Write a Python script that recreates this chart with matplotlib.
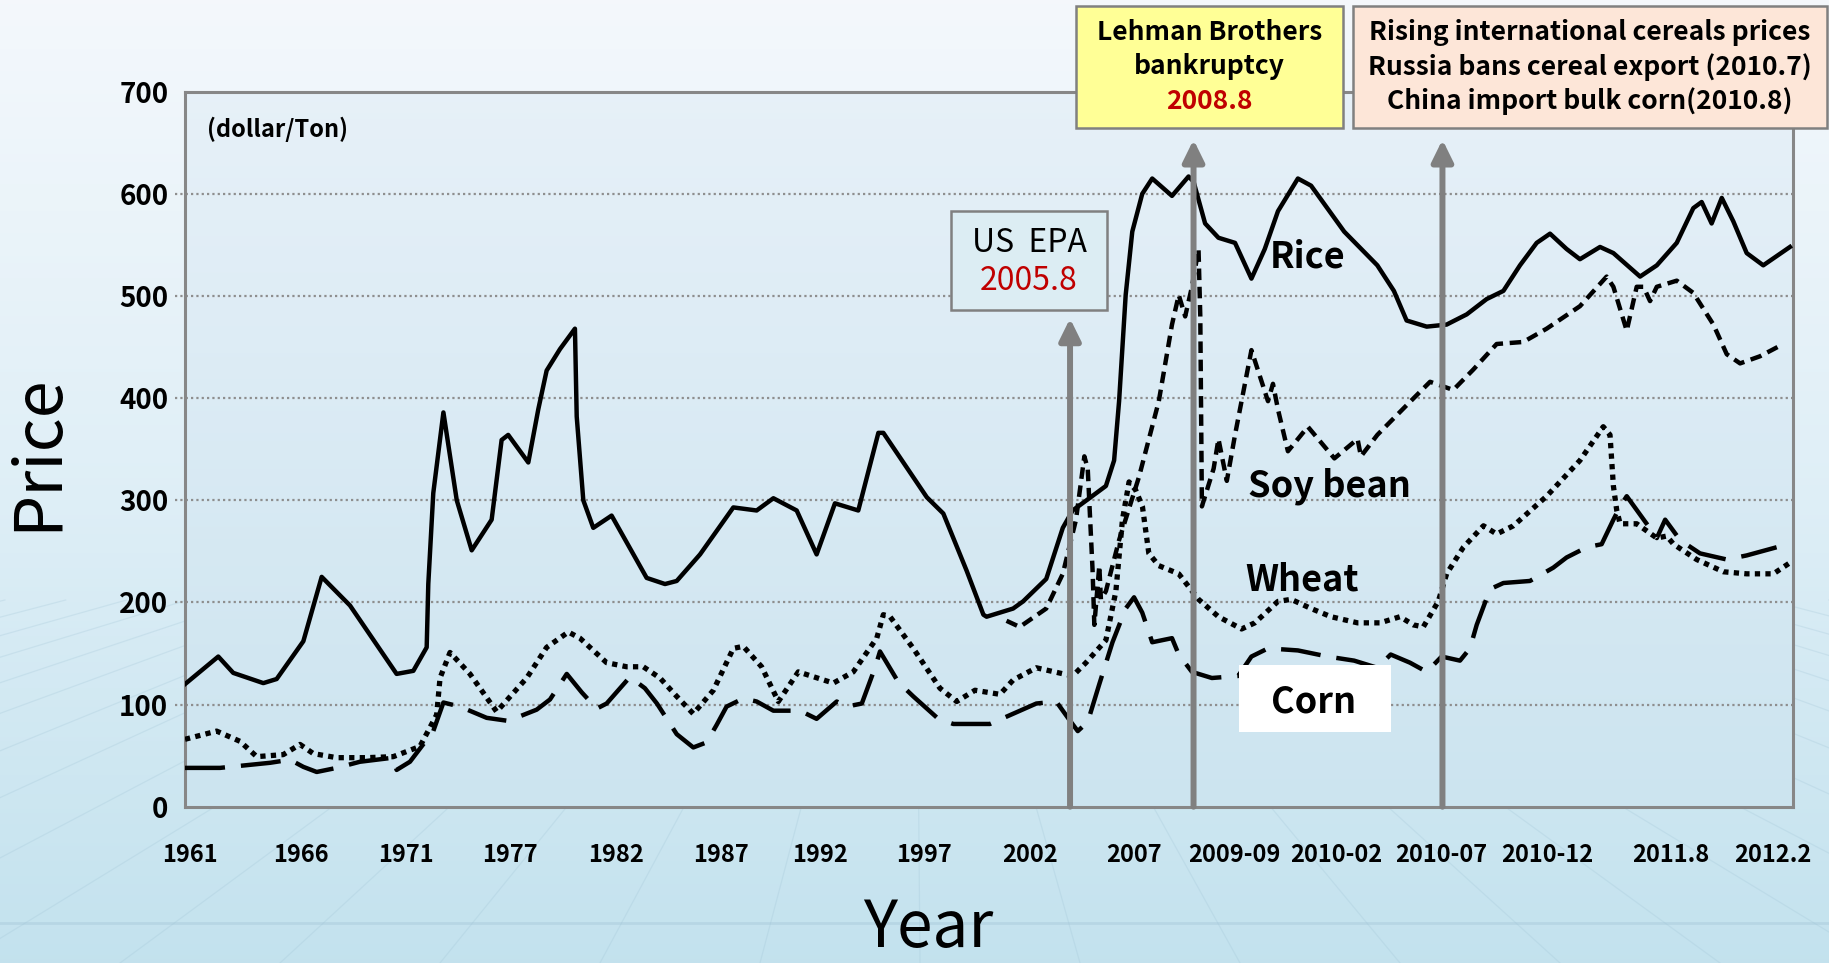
import matplotlib
matplotlib.use("Agg")
import matplotlib.pyplot as plt
import numpy as np
from matplotlib.patches import Rectangle

W, H = 1829, 963

# x axis is a position scale (0-100 across the frame); the original axis is not uniform in time
tick_pos = [0.31, 7.24, 13.74, 20.21, 26.80, 33.33, 39.49, 45.96, 52.55, 59.02,
            65.24, 71.58, 78.1, 84.70, 92.41, 98.76]
tick_labels = ["1961", "1966", "1971", "1977", "1982", "1987", "1992", "1997", "2002",
               "2007", "2009-09", "2010-02", "2010-07", "2010-12", "2011.8", "2012.2"]
y_ticks = [0, 100, 200, 300, 400, 500, 600, 700]
grid_vals = [100, 200, 300, 400, 500, 600]

rice_x = [0, 2.07, 3.0, 4.87, 5.70, 7.36, 8.50, 10.26, 13.16, 14.2, 15.03, 15.13, 15.44,
          16.07, 16.9, 17.83, 19.07, 19.69, 20.1, 21.35, 21.97, 22.49, 23.32, 24.25, 24.36,
          24.77, 25.39, 26.53, 28.71, 29.85, 30.58, 32.03, 34.1, 35.55, 36.59, 38.04, 39.28,
          40.42, 41.87, 43.12, 43.43, 46.13, 47.16, 48.61, 49.65, 49.85, 51.5, 52.12, 53.56,
          54.59, 55.2, 56.24, 57.27, 57.78, 58.09, 58.5, 58.91, 59.53, 60.15, 61.38, 62.41,
          62.72, 63.44, 64.27, 65.3, 66.32, 67.15, 67.97, 69.21, 70.03, 72.09, 74.15, 75.18,
          75.97, 77.22, 78.46, 79.71, 80.95, 81.99, 83.02, 84.06, 84.89, 85.92, 86.75, 88.0,
          88.83, 90.49, 91.53, 92.77, 93.8, 94.32, 94.94, 95.57, 96.29, 97.12, 98.15, 99.81]
rice_y = [120, 147, 131, 121, 125, 162, 225, 197, 130, 133, 156, 218, 307,
          386, 300, 251, 281, 359, 364, 337, 389, 427, 448, 468, 382,
          300, 273, 285, 224, 218, 221, 247, 293, 290, 302, 290, 247,
          297, 290, 366, 366, 303, 287, 231, 188, 186, 194, 201, 223,
          273, 290, 302, 314, 339, 397, 501, 563, 600, 615, 598, 617,
          612, 571, 557, 552, 517, 546, 583, 615, 608, 563, 530, 505,
          476, 470, 472, 482, 497, 505, 530, 552, 561, 546, 536, 548,
          542, 519, 530, 552, 586, 592, 571, 596, 573, 542, 530, 548]

soy_x = [51.09, 51.91, 53.56, 54.59, 55.41, 55.93, 56.14, 56.44, 56.55, 56.86, 56.96, 57.27,
         58.09, 59.33, 60.56, 61.38, 61.8, 62.2, 62.62, 63.03, 63.14, 63.24, 63.97, 64.27,
         64.79, 65.3, 66.32, 67.35, 67.66, 67.97, 68.59, 69.83, 71.48, 72.92, 73.13, 74.15,
         75.97, 77.43, 78.87, 80.12, 81.57, 83.23, 84.68, 86.75, 88.41, 88.83, 89.66, 90.28,
         90.7, 91.11, 91.53, 92.77, 93.8, 95.05, 95.88, 96.71, 97.95, 99.4]
soy_y = [182, 176, 194, 228, 281, 343, 331, 232, 178, 236, 203, 211,
         261, 323, 397, 472, 501, 480, 509, 546, 480, 294, 331, 360,
         319, 364, 447, 397, 414, 389, 348, 372, 341, 360, 343, 364,
         393, 416, 408, 428, 453, 455, 468, 490, 519, 509, 466, 509,
         509, 495, 509, 515, 503, 472, 443, 434, 441, 453]

wheat_x = [0, 1.97, 3.42, 4.46, 6.11, 7.15, 7.98, 9.43, 11.3, 12.95, 14.61, 15.65, 15.86,
           16.48, 17.72, 19.38, 21.25, 22.49, 23.84, 24.56, 26.22, 27.47, 28.5, 29.54, 30.58,
           31.61, 32.86, 34.1, 34.72, 35.86, 36.9, 38.14, 40.32, 41.56, 43.02, 43.43, 43.85,
           45.29, 46.95, 47.99, 49.13, 50.68, 51.5, 52.94, 55.2, 56.03, 57.27, 57.89, 58.3,
           58.71, 59.12, 59.54, 59.94, 60.56, 61.8, 63.03, 64.27, 65.71, 66.53, 67.97, 68.79,
           70.03, 71.27, 72.92, 74.32, 75.56, 76.39, 77.01, 77.94, 78.46, 79.5, 80.75, 81.57,
           82.61, 84.68, 86.75, 88.2, 88.62, 88.83, 89.04, 89.25, 90.28, 91.53, 92.15, 92.57,
           94.01, 95.67, 97.12, 98.78, 99.92]
wheat_y = [66, 74, 64, 49, 51, 61, 52, 48, 48, 49, 59, 90, 126,
           151, 130, 93, 126, 156, 171, 165, 141, 137, 137, 126, 108,
           91, 114, 155, 157, 137, 103, 132, 121, 132, 165, 188, 186,
           155, 116, 103, 114, 110, 124, 136, 128, 141, 163, 211, 281,
           318, 310, 294, 248, 236, 228, 203, 186, 174, 180, 201, 203,
           194, 186, 180, 180, 186, 178, 176, 201, 228, 254, 275, 267,
           275, 304, 339, 372, 364, 314, 290, 277, 277, 263, 265, 257,
           242, 230, 228, 228, 240]

corn_x = [0, 2.18, 5.3, 6.53, 7.36, 8.19, 9.43, 10.88, 12.95, 13.16, 13.99, 15.44, 16.07,
          17.1, 18.76, 20.1, 21.87, 22.7, 23.74, 24.67, 25.6, 26.22, 27.67, 28.6, 29.35,
          30.58, 31.61, 32.44, 33.06, 33.68, 34.72, 35.55, 36.59, 38.25, 39.28, 40.53, 41.15,
          42.09, 42.91, 43.22, 44.36, 45.29, 46.85, 47.78, 50.06, 52.94, 54.18, 55.0, 55.52,
          56.14, 56.86, 57.68, 58.5, 59.02, 59.53, 60.15, 61.38, 61.8, 62.62, 63.86, 65.5,
          66.32, 67.35, 69.21, 71.06, 72.71, 74.15, 74.98, 76.18, 77.22, 78.15, 79.29, 79.91,
          80.33, 81.16, 81.99, 83.64, 85.09, 85.92, 87.17, 88.1, 88.83, 89.25, 89.66, 90.9,
          91.53, 92.05, 92.98, 94.22, 95.88, 97.12, 98.98]
corn_y = [38, 38, 43, 46, 39, 34, 38, 44, 48, 36, 44, 74, 102,
          98, 87, 84, 95, 105, 130, 112, 96, 101, 127, 116, 101,
          71, 58, 63, 80, 98, 106, 103, 94, 94, 86, 103, 98,
          101, 136, 152, 122, 108, 86, 81, 81, 101, 103, 85, 74,
          83, 120, 161, 194, 205, 190, 161, 165, 149, 132, 126, 128,
          147, 155, 153, 147, 143, 136, 149, 141, 132, 147, 143, 155,
          178, 213, 219, 221, 234, 244, 254, 257, 281, 294, 304, 277,
          263, 281, 261, 248, 242, 246, 254]

event_x = [55.04, 62.72, 78.2]
event_top = [478, 653, 653]

plt.rcParams['font.family'] = ['Noto Sans CJK KR', 'DejaVu Sans']

fig = plt.figure(figsize=(W / 100, H / 100), dpi=100)


def fx(px):
    return px / W


def fy(py):
    return 1 - py / H


def gradient(stops, n=256):
    t = np.linspace(0, 1, n)
    pos = np.linspace(0, 1, len(stops))
    cols = np.array(stops)
    img = np.stack([np.interp(t, pos, cols[:, k]) for k in range(3)], axis=1)
    return img[:, None, :]


# page background with faint floor lines
bg = fig.add_axes([0, 0, 1, 1], zorder=-10)
bg.imshow(gradient([(0.957, 0.972, 0.988), (0.875, 0.937, 0.968), (0.765, 0.886, 0.933)]),
          extent=[0, W, H, 0], aspect="auto")
for xb in np.arange(-1800, 3600, 160):
    bg.plot([915 + (xb - 915) * 0.38, xb], [600, H], color=(0.62, 0.76, 0.83), lw=0.9, alpha=0.25)
bg.axhline(923, color=(0.62, 0.76, 0.83), lw=2, alpha=0.35)
bg.set_xlim(0, W)
bg.set_ylim(H, 0)
bg.axis("off")

rect = [fx(185), fy(806.7), fx(1793) - fx(185), fy(91.7) - fy(806.7)]
axbg = fig.add_axes(rect, zorder=-5)
axbg.imshow(gradient([(0.905, 0.943, 0.973), (0.80, 0.895, 0.94)]), extent=[0, 1, 0, 1], aspect="auto")
axbg.axis("off")

ax = fig.add_axes(rect, zorder=0)
ax.set_facecolor("none")
ax.set_xlim(0, 100)
ax.set_ylim(0, 700)

ax.hlines(grid_vals, -0.62, 100, colors="#8e8e8e", lw=1.6, linestyles=(0, (1, 1.4)), clip_on=False, zorder=1)

ax.plot(rice_x, rice_y, color="black", lw=3.2, solid_joinstyle="round", zorder=3)
ax.plot(soy_x, soy_y, color="black", lw=3.2, dashes=(2.6, 1.5), dash_capstyle="butt", zorder=3)
ax.plot(wheat_x, wheat_y, color="black", lw=3.8, dashes=(1, 1), dash_capstyle="butt", zorder=3)
ax.plot(corn_x, corn_y, color="black", lw=3.2, dashes=(9, 3.6), dash_capstyle="butt", zorder=3)

for x, top in zip(event_x, event_top):
    ax.annotate("", xy=(x, top), xytext=(x, 0),
                arrowprops=dict(arrowstyle="-|>,head_length=0.65,head_width=0.32", color="#808080",
                                lw=4.3, mutation_scale=20, shrinkA=0, shrinkB=0), zorder=4)

for s in ax.spines.values():
    s.set_color("#878787")
    s.set_linewidth(2.2)

ax.set_yticks(y_ticks)
ax.set_yticklabels([str(v) for v in y_ticks], fontsize=20, fontweight="bold")
ax.set_xticks(tick_pos)
ax.set_xticklabels(tick_labels, fontsize=17, fontweight="bold")
ax.tick_params(axis="y", length=0, pad=12)
ax.tick_params(axis="x", length=0, pad=26)

ax.text(1.37, 663, "(dollar/Ton)", fontsize=17, fontweight="bold", va="center", ha="left")

ax.text(69.8, 527.6, "Rice", fontsize=26, fontweight="bold", ha="center", va="baseline", zorder=5)
ax.text(71.15, 303.3, "Soy bean", fontsize=26, fontweight="bold", ha="center", va="baseline", zorder=5)
ax.text(69.46, 211.5, "Wheat", fontsize=26, fontweight="bold", ha="center", va="baseline", zorder=5)
ax.add_patch(Rectangle((65.55, 73.5), 9.45, 65.3, facecolor="white", edgecolor="none", zorder=5))
ax.text(70.2, 91.8, "Corn", fontsize=26, fontweight="bold", ha="center", va="baseline", zorder=6)

fig.text(fx(38), fy(452), "Price", fontsize=48, rotation=90, ha="center", va="center")
fig.text(fx(928), fy(962), "Year", fontsize=46, ha="center", va="bottom")

# event boxes
boxes = [
    (951, 211, 1107, 310, "#dcedf3"),
    (1076, 6, 1343, 128, "#ffff96"),
    (1353, 6, 1827, 128, "#fde6d8"),
]
for x0, y0, x1, y1, fc in boxes:
    fig.add_artist(Rectangle((fx(x0), fy(y1)), fx(x1) - fx(x0), fy(y0) - fy(y1),
                             transform=fig.transFigure, facecolor=fc, edgecolor="#808080",
                             lw=1.8, zorder=5))

fig.text(fx(1029), fy(243), "US  EPA", fontsize=23, ha="center", va="center", zorder=6)
fig.text(fx(1029), fy(281), "2005.8", fontsize=23, color="#c00000", ha="center", va="center", zorder=6)

fig.text(fx(1209.5), fy(33), "Lehman Brothers", fontsize=19, fontweight="bold", ha="center", va="center", zorder=6)
fig.text(fx(1209.5), fy(67), "bankruptcy", fontsize=19, fontweight="bold", ha="center", va="center", zorder=6)
fig.text(fx(1209.5), fy(101), "2008.8", fontsize=19, fontweight="bold", color="#c00000",
         ha="center", va="center", zorder=6)

fig.text(fx(1590), fy(33), "Rising international cereals prices", fontsize=19, fontweight="bold",
         ha="center", va="center", zorder=6)
fig.text(fx(1590), fy(67), "Russia bans cereal export (2010.7)", fontsize=19, fontweight="bold",
         ha="center", va="center", zorder=6)
fig.text(fx(1590), fy(101), "China import bulk corn(2010.8)", fontsize=19, fontweight="bold",
         ha="center", va="center", zorder=6)

fig.savefig("out.png", dpi=100)
